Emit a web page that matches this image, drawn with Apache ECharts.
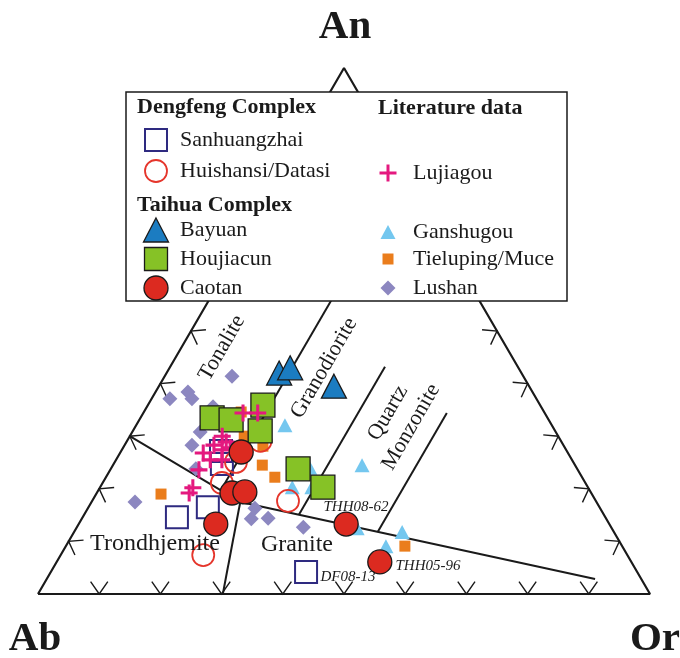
<!DOCTYPE html>
<html>
<head>
<meta charset="utf-8">
<script src="https://cdn.jsdelivr.net/npm/echarts@6/dist/echarts.min.js"></script>
<style>html,body{margin:0;padding:0;background:#fff}#c{width:680px;height:658px}</style>
</head>
<body>
<div id="c"></div>
<script>
// ---- data: each point is [An, Ab, Or] in % ----
const sanhuangzhai = [[27.2,56.5,16.3],[24.7,57.6,17.7],[16.5,64.0,19.5],[14.6,70.0,15.4],[4.2,54.1,41.7]];
const huishansi = [[29.1,49.1,21.8],[21.1,59.4,19.5],[17.7,50.3,32.0],[7.4,69.3,23.3],[25.1,55.1,19.8]];
const bayuan = [[42.0,39.6,18.4],[43.0,37.3,19.7],[39.5,31.9,28.6]];
const houjiacun = [[33.5,54.8,11.7],[33.1,51.9,15.0],[35.9,45.3,18.8],[31.0,48.2,20.8],[23.8,45.6,30.6],[20.3,43.3,36.4]];
const caotan = [[27.0,53.3,19.7],[19.2,58.7,22.1],[19.4,56.5,24.1],[13.3,64.3,22.4],[13.3,43.0,43.7],[6.1,41.1,52.8]];
const lujiagou = [[34.4,49.3,16.3],[34.4,46.9,18.7],[30.0,54.9,15.1],[28.9,54.8,16.3],[27.4,56.2,16.4],[27.8,54.7,17.5],[26.8,59.6,13.6],[25.5,59.1,15.4],[25.5,57.2,17.3],[23.6,61.9,14.5],[20.2,64.6,15.2],[19.2,65.7,15.1],[28.3,57.1,14.6]];
const ganshugou = [[32.1,43.6,24.3],[24.5,34.8,40.7],[24.0,43.6,32.4],[20.3,48.3,31.4],[20.3,45.1,34.6],[11.8,34.6,53.6],[9.1,38.6,52.3],[12.5,41.6,45.9]];
const tieluping = [[34.6,49.5,15.9],[30.0,51.3,18.7],[28.1,49.2,22.7],[24.5,51.1,24.4],[22.2,50.2,27.6],[19.0,70.4,10.6],[9.1,35.5,55.4]];
const lushan = [[41.4,47.6,11.0],[37.1,59.9,3.0],[38.4,56.3,5.3],[37.1,56.3,6.6],[35.6,53.6,10.8],[30.8,58.1,11.1],[28.3,60.7,11.0],[23.8,62.3,13.9],[17.5,75.4,7.1],[16.3,56.4,27.3],[14.3,58.0,27.7],[14.4,55.2,30.4],[12.7,50.3,37.0]];

// field boundaries [An, Ab, Or]
const frame = [[0,100,0],[0,0,100],[100,0,0],[0,100,0]];
const tonGranLine = [[80,0,20],[19.7,60.3,20]];
const trondLine = [[30,70,0],[17.5,58.2,24.3],[2.85,7.55,89.6]];
const trondGraniteLine = [[17.5,58.2,24.3],[0,69.8,30.2]];
const grdQmLine = [[43.2,21.7,35.1],[15.1,49.8,35.1]];
const qmLine = [[34.4,16.0,49.6],[11.8,38.6,49.6]];
const tickSteps = [10,20,30,40,50,60,70,80,90];

const H = Math.sqrt(3)/2;
function tern(p){ const an=p[0]/100, or=p[2]/100; return [or + an/2, an*H]; }
function conv(arr){ return arr.map(tern); }

// ticks: base (Ab-Or), left (Ab-An), right (Or-An) with inward normal angle (screen deg)
const ticks = [];
tickSteps.forEach(k => {
  ticks.push(tern([0,100-k,k]).concat([-90]));
  ticks.push(tern([k,100-k,0]).concat([30]));
  ticks.push(tern([k,0,100-k]).concat([150]));
});

const SERIF = '"Liberation Serif","Times New Roman",serif';
const INK = '#1a1a1a';
const C = {
  san:'#2e2a80', hui:'#e5352b', bay:'#1b7cc1', hou:'#86c226', cao:'#dc2a20',
  luj:'#e4197f', gan:'#74c7ef', tie:'#ea7d1c', lus:'#8c87c0'
};
const crossPath = 'path://M0,41H41V0H59V41H100V59H59V100H41V59H0Z';

function lineSeries(pts, w){
  return {type:'line', data:conv(pts), showSymbol:false, silent:true, z:1, animation:false,
    lineStyle:{color:INK, width:w||2}, clip:false};
}
function scatter(name, pts, symbol, size, style, z){
  style.opacity = 1;
  return {type:'scatter', name, data:conv(pts), symbol, symbolSize:size, itemStyle:style,
    emphasis:{disabled:true}, silent:true, z:z, animation:false, clip:false};
}
function txt(x, y, s, font, extra){
  return Object.assign({type:'text', z:101, x:x, y:y,
    style:{text:s, font:font, fill:INK, align:'left', verticalAlign:'middle'}}, extra||{});
}

const option = {
  animation:false,
  grid:{left:38, right:30, top:68, bottom:64, containLabel:false},
  xAxis:{type:'value', min:0, max:1, show:false},
  yAxis:{type:'value', min:0, max:H, show:false},
  series:[
    lineSeries(frame, 2.2),
    lineSeries(tonGranLine, 2),
    lineSeries(trondLine, 2),
    lineSeries(trondGraniteLine, 2),
    lineSeries(grdQmLine, 2),
    lineSeries(qmLine, 2),
    {type:'custom', data:ticks, silent:true, z:1, animation:false, clip:false,
      encode:{x:0,y:1},
      renderItem:function(params, api){
        const p = api.coord([api.value(0), api.value(1)]);
        const phi = api.value(2)*Math.PI/180, h = 35*Math.PI/180, L = 15;
        return {type:'polyline', shape:{points:[
          [p[0]+L*Math.cos(phi-h), p[1]+L*Math.sin(phi-h)], p,
          [p[0]+L*Math.cos(phi+h), p[1]+L*Math.sin(phi+h)]]},
          style:{stroke:INK, lineWidth:1.4, fill:null}};
      }},
    scatter('Lushan', lushan, 'diamond', 15, {color:C.lus}, 3),
    scatter('Tieluping/Muce', tieluping, 'rect', 11, {color:C.tie}, 4),
    scatter('Ganshugou', ganshugou, 'triangle', [15,14], {color:C.gan}, 5),
    scatter('Sanhuangzhai', sanhuangzhai, 'rect', 22, {color:'rgba(255,255,255,0)', borderColor:C.san, borderWidth:2}, 6),
    scatter('Huishansi/Datasi', huishansi, 'circle', 22, {color:'rgba(255,255,255,0)', borderColor:C.hui, borderWidth:1.8}, 7),
    scatter('Houjiacun', houjiacun, 'rect', 24, {color:C.hou, borderColor:INK, borderWidth:1.3}, 8),
    scatter('Bayuan', bayuan, 'triangle', [25,24], {color:C.bay, borderColor:INK, borderWidth:1.3}, 9),
    scatter('Lujiagou', lujiagou, crossPath, 17, {color:C.luj}, 10),
    scatter('Caotan', caotan, 'circle', 24, {color:C.cao, borderColor:INK, borderWidth:1.3}, 11)
  ],
  graphic:[
    // legend box
    {type:'rect', z:100, shape:{x:126, y:92, width:441, height:209}, style:{fill:'#fff', stroke:INK, lineWidth:1.5}},
    txt(137, 107, 'Dengfeng Complex', 'bold 22px '+SERIF),
    txt(378, 108, 'Literature data', 'bold 22px '+SERIF),
    txt(137, 205, 'Taihua Complex', 'bold 22px '+SERIF),
    {type:'rect', z:101, shape:{x:145, y:129, width:22, height:22}, style:{fill:'#fff', stroke:C.san, lineWidth:2}},
    {type:'circle', z:101, shape:{cx:156, cy:171, r:11}, style:{fill:'#fff', stroke:C.hui, lineWidth:1.8}},
    {type:'polygon', z:101, shape:{points:[[156,218],[168.5,242],[143.5,242]]}, style:{fill:C.bay, stroke:INK, lineWidth:1.3}},
    {type:'rect', z:101, shape:{x:144.5, y:247.5, width:23, height:23}, style:{fill:C.hou, stroke:INK, lineWidth:1.3}},
    {type:'circle', z:101, shape:{cx:156, cy:288, r:12}, style:{fill:C.cao, stroke:INK, lineWidth:1.3}},
    txt(180, 140, 'Sanhuangzhai', '22px '+SERIF),
    txt(180, 171, 'Huishansi/Datasi', '22px '+SERIF),
    txt(180, 230, 'Bayuan', '22px '+SERIF),
    txt(180, 259, 'Houjiacun', '22px '+SERIF),
    txt(180, 288, 'Caotan', '22px '+SERIF),
    {type:'polygon', z:101, shape:{points:[[388,225],[395.5,239],[380.5,239]]}, style:{fill:C.gan}},
    {type:'rect', z:101, shape:{x:382.5, y:253.5, width:11, height:11}, style:{fill:C.tie}},
    {type:'polygon', z:101, shape:{points:[[388,280.5],[395.5,288],[388,295.5],[380.5,288]]}, style:{fill:C.lus}},
    {type:'rect', z:101, shape:{x:379.5, y:171.5, width:17, height:3}, style:{fill:C.luj}},
    {type:'rect', z:101, shape:{x:386.5, y:164.5, width:3, height:17}, style:{fill:C.luj}},
    txt(413, 173, 'Lujiagou', '22px '+SERIF),
    txt(413, 232, 'Ganshugou', '22px '+SERIF),
    txt(413, 259, 'Tieluping/Muce', '22px '+SERIF),
    txt(413, 288, 'Lushan', '22px '+SERIF),
    // corner labels
    {type:'text', z:101, x:345, y:27, style:{text:'An', font:'bold 41px '+SERIF, fill:INK, align:'center', verticalAlign:'middle'}},
    {type:'text', z:101, x:35, y:639, style:{text:'Ab', font:'bold 41px '+SERIF, fill:INK, align:'center', verticalAlign:'middle'}},
    {type:'text', z:101, x:655, y:639, style:{text:'Or', font:'bold 41px '+SERIF, fill:INK, align:'center', verticalAlign:'middle'}},
    // field labels
    {type:'text', z:20, x:222, y:348, rotation:Math.PI/3, style:{text:'Tonalite', font:'22px '+SERIF, fill:INK, align:'center', verticalAlign:'middle'}},
    {type:'text', z:20, x:324, y:368, rotation:Math.PI/3, style:{text:'Granodiorite', font:'22px '+SERIF, fill:INK, align:'center', verticalAlign:'middle'}},
    {type:'text', z:20, x:388, y:413, rotation:Math.PI/3, style:{text:'Quartz', font:'22px '+SERIF, fill:INK, align:'center', verticalAlign:'middle'}},
    {type:'text', z:20, x:411, y:427, rotation:Math.PI/3, style:{text:'Monzonite', font:'22px '+SERIF, fill:INK, align:'center', verticalAlign:'middle'}},
    {type:'text', z:20, x:155, y:544, style:{text:'Trondhjemite', font:'24px '+SERIF, fill:INK, align:'center', verticalAlign:'middle'}},
    {type:'text', z:20, x:297, y:545, style:{text:'Granite', font:'24px '+SERIF, fill:INK, align:'center', verticalAlign:'middle'}},
    {type:'text', z:20, x:356, y:507, style:{text:'THH08-62', font:'italic 15px '+SERIF, fill:INK, align:'center', verticalAlign:'middle'}},
    {type:'text', z:20, x:428, y:566, style:{text:'THH05-96', font:'italic 15px '+SERIF, fill:INK, align:'center', verticalAlign:'middle'}},
    {type:'text', z:20, x:348, y:577, style:{text:'DF08-13', font:'italic 15px '+SERIF, fill:INK, align:'center', verticalAlign:'middle'}}
  ]
};
const chart = echarts.init(document.getElementById('c'), null, {renderer:'canvas'});
chart.setOption(option);
</script>
</body>
</html>
